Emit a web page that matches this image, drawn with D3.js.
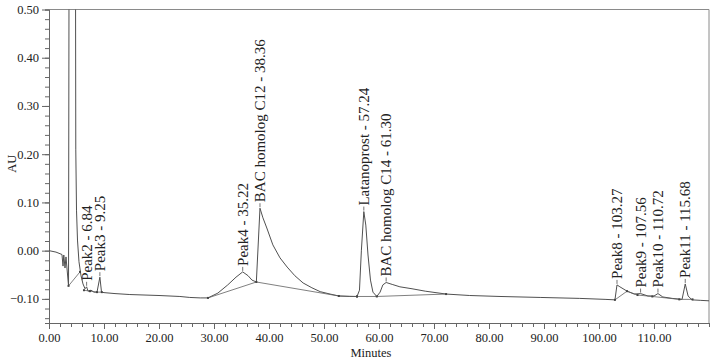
<!DOCTYPE html>
<html>
<head>
<meta charset="utf-8">
<script src="https://cdn.jsdelivr.net/npm/d3@7"></script>
<style>
  html, body { margin: 0; padding: 0; background: #fff; }
  svg { display: block; }
  text { font-family: "Liberation Serif", "Times New Roman", serif; fill: #222; }
</style>
</head>
<body>
<svg id="chart" width="717" height="364"></svg>
<script>
// ---- data ----
const TIME = [0.00,1.27,2.36,2.55,2.69,2.91,3.09,3.55,3.69,4.78,4.87,5.00,5.18,5.45,5.82,6.18,6.55,6.84,7.09,7.64,8.18,8.73,9.25,9.55,10.0,12.0,14.7,20.0,23.8,25.6,27.5,28.9,30.7,32.5,34.0,35.22,36.2,36.9,37.7,38.36,38.9,39.6,40.7,42.0,43.3,44.7,46.2,47.8,49.3,51.1,52.7,54.7,56.0,56.45,56.8,57.24,57.6,58.0,58.45,58.9,59.6,60.2,60.7,61.30,62.4,63.8,66.0,68.4,72.2,76.5,82.0,89.3,96.5,101.1,102.9,103.27,103.8,105.1,106.4,107.56,108.9,110.0,110.72,111.6,113.3,115.1,115.68,116.2,116.9,118.4,120.0];
const AU = [0.000,-0.003,-0.008,-0.032,-0.009,-0.036,-0.013,-0.073,0.90,0.90,0.209,0.084,0.022,-0.023,-0.052,-0.069,-0.079,-0.075,-0.084,-0.082,-0.086,-0.086,-0.055,-0.086,-0.087,-0.089,-0.091,-0.093,-0.095,-0.097,-0.098,-0.098,-0.088,-0.071,-0.055,-0.044,-0.052,-0.061,-0.065,0.088,0.068,0.047,0.012,-0.015,-0.034,-0.052,-0.067,-0.077,-0.085,-0.090,-0.094,-0.095,-0.095,-0.082,0.001,0.081,0.053,-0.009,-0.061,-0.086,-0.095,-0.086,-0.071,-0.066,-0.070,-0.075,-0.079,-0.084,-0.090,-0.093,-0.095,-0.097,-0.099,-0.101,-0.102,-0.071,-0.075,-0.084,-0.090,-0.089,-0.094,-0.094,-0.089,-0.096,-0.099,-0.101,-0.069,-0.094,-0.102,-0.103,-0.104];

const PEAK_NAMES = ["Peak2","Peak3","Peak4","BAC homolog C12","Latanoprost","BAC homolog C14","Peak8","Peak9","Peak10","Peak11"];
const PEAK_TIMES = [6.84,9.25,35.22,38.36,57.24,61.30,103.27,107.56,110.72,115.68];
const PEAK_AU    = [-0.075,-0.055,-0.044,0.088,0.081,-0.066,-0.071,-0.089,-0.089,-0.069];

// integration baselines (time, AU) segments
const BASELINES = [
  [[3.55,-0.073],[5.64,-0.044]],
  [[6.36,-0.082],[7.45,-0.084],[8.73,-0.086],[9.6,-0.086]],
  [[28.9,-0.098],[37.7,-0.065],[52.7,-0.094],[56.0,-0.095]],
  [[56.0,-0.095],[59.6,-0.095],[72.2,-0.090]],
  [[102.9,-0.102],[105.1,-0.084],[107.0,-0.092],[109.7,-0.095],[114.6,-0.101],[117.0,-0.101]]
];

const X_TICKS = [0,10,20,30,40,50,60,70,80,90,100,110];
const Y_TICKS = [-0.10,0.00,0.10,0.20,0.30,0.40,0.50];
const X_DOMAIN = [0,120];
const Y_DOMAIN = [-0.15,0.50];
const X_TITLE = "Minutes";
const Y_TITLE = "AU";

// ---- layout ----
const svg = d3.select("#chart");
const L = 49, R = 709, T = 9.5, B = 323;
const x = d3.scaleLinear().domain(X_DOMAIN).range([L, R]);
const y = d3.scaleLinear().domain(Y_DOMAIN).range([B, T]);
const fmt = d3.format(".2f");

svg.append("defs").append("clipPath").attr("id","clip")
  .append("rect").attr("x",L).attr("y",T).attr("width",R-L).attr("height",B-T);

// frame (top & right)
svg.append("path")
  .attr("d",`M${L},${T}H${R}V${B}`)
  .attr("fill","none").attr("stroke","#8a8a8a").attr("stroke-width",1);

// x axis
const xMinor = d3.range(0,121,2);
svg.append("g").attr("transform",`translate(0,${B})`)
  .call(d3.axisBottom(x).tickValues(xMinor).tickSize(4).tickFormat(""))
  .call(g=>g.select(".domain").attr("stroke","#666"))
  .call(g=>g.selectAll(".tick line").attr("stroke","#666"));
svg.append("g").attr("transform",`translate(0,${B})`)
  .call(d3.axisBottom(x).tickValues(X_TICKS).tickSize(6).tickPadding(4).tickFormat(fmt))
  .call(g=>g.select(".domain").remove())
  .call(g=>g.selectAll(".tick line").attr("stroke","#666"))
  .call(g=>g.selectAll("text").attr("font-family","Liberation Serif").attr("font-size",12.5).attr("fill","#222"));

// y axis
const yMinor = d3.range(-14,51,2).map(v=>v/100);
svg.append("g").attr("transform",`translate(${L},0)`)
  .call(d3.axisLeft(y).tickValues(yMinor).tickSize(4).tickFormat(""))
  .call(g=>g.select(".domain").attr("stroke","#666"))
  .call(g=>g.selectAll(".tick line").attr("stroke","#666"));
svg.append("g").attr("transform",`translate(${L},0)`)
  .call(d3.axisLeft(y).tickValues(Y_TICKS).tickSize(7).tickPadding(3).tickFormat(fmt))
  .call(g=>g.select(".domain").remove())
  .call(g=>g.selectAll(".tick line").attr("stroke","#666"))
  .call(g=>g.selectAll("text").attr("font-family","Liberation Serif").attr("font-size",12.5).attr("fill","#222"));

// titles
svg.append("text").attr("x",371).attr("y",357).attr("text-anchor","middle")
  .attr("font-size",12.5).text(X_TITLE);
svg.append("text").attr("transform",`translate(16,${y(0.18)}) rotate(-90)`)
  .attr("text-anchor","middle").attr("font-size",12.5).text(Y_TITLE);

// trace
const plot = svg.append("g").attr("clip-path","url(#clip)");
const pts = TIME.map((t,i)=>[t, AU[i]]);
const line = d3.line().x(d=>x(d[0])).y(d=>y(d[1]));
plot.append("path").datum(pts).attr("d",line)
  .attr("fill","none").attr("stroke","#505050").attr("stroke-width",1);

// baselines + markers
BASELINES.forEach(seg=>{
  plot.append("path").datum(seg).attr("d",line)
    .attr("fill","none").attr("stroke","#606060").attr("stroke-width",0.8);
  plot.selectAll(null).data(seg).enter().append("rect")
    .attr("x",d=>x(d[0])-1).attr("y",d=>y(d[1])-1)
    .attr("width",2).attr("height",2).attr("fill","#444");
});

// peak labels
PEAK_NAMES.forEach((n,i)=>{
  const px = x(PEAK_TIMES[i]), py = y(PEAK_AU[i]);
  svg.append("line").attr("x1",px).attr("x2",px).attr("y1",py-1).attr("y2",py-5)
    .attr("stroke","#505050").attr("stroke-width",0.8);
  svg.append("text")
    .attr("transform",`translate(${px},${py-6}) rotate(-90)`)
    .attr("dy","0.35em").attr("font-size",15)
    .text(`${n} - ${fmt(PEAK_TIMES[i])}`);
});
</script>
</body>
</html>
